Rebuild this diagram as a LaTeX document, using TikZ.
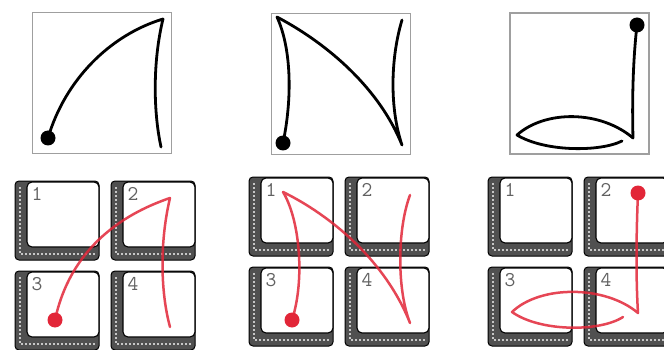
\documentclass[tikz,border=0pt]{standalone}
\usepackage{tikz}
\usetikzlibrary{positioning}
\definecolor{inkred}{RGB}{226,38,56}
\definecolor{keyshade}{RGB}{80,80,80}

\begin{document}
\begin{tikzpicture}[x=1pt, y=-1pt,
      frame/.style={draw=gray!75, line width=1.8pt, minimum width=139pt,
                    minimum height=141pt, inner sep=0pt},
      pen/.style={line width=2.8pt, line cap=round, line join=round},
      trace/.style={draw=inkred, line width=2.5pt, opacity=0.85, line cap=round, line join=round},
      digit/.style={font=\ttfamily\fontsize{21}{21}\selectfont, text=black!62, inner sep=0pt},
      keybody/.style={rounded corners=4pt, draw=black, fill=keyshade, line width=1pt},
      keyface/.style={rounded corners=5pt, draw=black, fill=white, line width=1.1pt}]
    \useasboundingbox (0,0) rectangle (664,350);
    % the three drawings
    \node[frame] (box1) at (102,83)   {};
    \node[frame] (box2) at (341,84)   {};
    \node[frame] (box3) at (579.5,83.5) {};
    % keypads
    \foreach \gx/\gy [count=\g] in {15/181, 249/177, 488/177}{
      \foreach \n/\dx/\dy in {1/0/0, 2/96/0, 3/0/90, 4/96/90}{
        \begin{scope}[shift={(\gx+\dx,\gy+\dy)}]
          \draw[keybody] (0,0) rectangle (84,79);
          \draw[gray!45, line width=2.6pt, dash pattern=on 2pt off 2pt] (5,6) -- (5,73) -- (80,73);
          \draw[keyface] (12,1) rectangle (84,66);
          \node[digit] (k\g\n) at (22,13) {\n};
        \end{scope}
      }
    }
    % black strokes
    \fill (48,138) circle (7.5);
    \draw[pen] (48,138) .. controls (65,80) and (110,35) .. (163,19)
                        .. controls (153,60) and (153,110) .. (161,147);
    \fill (283,143) circle (7.5);
    \draw[pen] (283,143) .. controls (292,100) and (292,50) .. (277,17)
                         .. controls (330,45) and (380,90) .. (402,145)
                         .. controls (390,110) and (390,60) .. (402,20);
    \fill (637,25) circle (7.5);
    \draw[pen] (637,25) .. controls (633,60) and (632,100) .. (633,138)
                        .. controls (600,110) and (545,110) .. (517,135)
                        .. controls (545,152) and (600,152) .. (622,141);
    % red traces
    \fill[inkred] (55,320) circle (7.5);
    \draw[trace] (55,320) .. controls (70,250) and (120,215) .. (170,198)
                          .. controls (160,240) and (160,290) .. (170,327);
    \fill[inkred] (292,320) circle (7.5);
    \draw[trace] (292,320) .. controls (305,280) and (300,220) .. (283,192)
                           .. controls (330,215) and (385,260) .. (410,323)
                           .. controls (397,290) and (397,230) .. (410,195);
    \fill[inkred] (638,193) circle (7.5);
    \draw[trace] (638,193) .. controls (636,240) and (636,280) .. (638,313)
                           .. controls (605,285) and (540,285) .. (512,312)
                           .. controls (540,332) and (600,332) .. (623,317);
  \end{tikzpicture}
\end{document}
